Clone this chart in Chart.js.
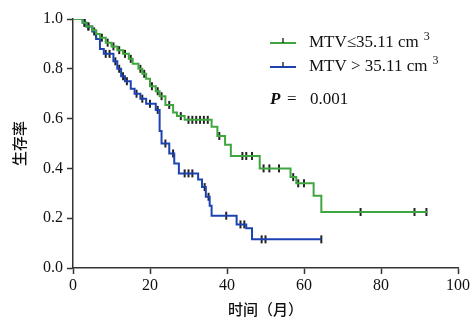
<!DOCTYPE html>
<html lang="zh">
<head>
  <meta charset="UTF-8">
  <title>生存曲线</title>
  <script src="https://cdn.jsdelivr.net/npm/chart.js"></script>
  <style>
    html, body { margin: 0; padding: 0; background: #fff; }
    #wrap { width: 472px; height: 326px; position: relative; }
  </style>
</head>
<body>
  <div id="wrap"><canvas id="km"></canvas></div>

  <script>
    // MTV <= 35.11 cm3 (green): step times and survival
    const lowT = [0, 2.5, 3.5, 5, 6, 7, 8.5, 10, 11.5, 13, 14.5, 15.5, 17, 18, 19, 20, 21.5, 22.5, 24, 26, 27, 29, 36, 37.5, 39.5, 41, 48.5, 56.5, 58, 62.5, 64.5, 92];
    const lowS = [1, 0.985, 0.97, 0.955, 0.94, 0.925, 0.905, 0.89, 0.875, 0.86, 0.84, 0.82, 0.8, 0.78, 0.76, 0.73, 0.71, 0.69, 0.655, 0.625, 0.61, 0.595, 0.567, 0.53, 0.495, 0.45, 0.4, 0.365, 0.34, 0.29, 0.225, 0.225];
    const lowCensor = [3, 4, 6, 7.5, 9, 10.5, 12, 13.5, 15, 17.5, 18.5, 20.5, 22, 23, 25, 28, 30, 31, 32, 33, 34, 35, 38, 44, 45, 46.5, 49.5, 51, 53.5, 57.2, 58.5, 60, 74.7, 88.7, 91.8];

    // MTV > 35.11 cm3 (blue)
    const highT = [0, 2.5, 3.5, 5, 6, 7, 8, 10.5, 11.5, 12.5, 13.5, 15, 16, 17.5, 19, 21.5, 22.5, 23, 25, 26.3, 27.5, 32.5, 33.5, 34.5, 35.5, 36, 42.5, 45, 46.5, 64.5];
    const highS = [1, 0.985, 0.97, 0.95, 0.92, 0.88, 0.86, 0.83, 0.8, 0.77, 0.75, 0.72, 0.7, 0.68, 0.66, 0.635, 0.55, 0.5, 0.46, 0.42, 0.38, 0.355, 0.325, 0.286, 0.25, 0.21, 0.175, 0.16, 0.115, 0.115];
    const highCensor = [3, 4, 5.5, 8.5, 9.5, 11, 12, 13, 14, 16.5, 18, 20, 22, 24, 26, 29, 30, 31, 34.2, 35.2, 39.8, 43.5, 44.5, 49, 50, 64.5];

    const xTicks = [0, 20, 40, 60, 80, 100];
    const yTicks = [0, 0.2, 0.4, 0.6, 0.8, 1.0];

    const green = '#3fa63f';
    const blue = '#1d43b3';
    const serif = "'Liberation Serif', 'DejaVu Serif', serif";
    const cjk = "'Noto Sans CJK SC', sans-serif";

    function stepAt(ts, ss, t) {
      let v = ss[0];
      for (let i = 0; i < ts.length; i++) if (ts[i] <= t) v = ss[i];
      return v;
    }
    const curve = (ts, ss) => ts.map((t, i) => ({ x: t, y: ss[i] }));
    const marks = (cs, ts, ss) => cs.map(t => ({ x: t, y: stepAt(ts, ss, t) }));

    // legend + p value drawn inside the plot area
    const legendPlugin = {
      id: 'kmLegend',
      afterDraw(chart) {
        const c = chart.ctx;
        const rows = [
          { color: green, sym: '≤', y: 43 },
          { color: blue, sym: ' > ', y: 67 }
        ];
        c.save();
        rows.forEach(r => {
          c.strokeStyle = r.color;
          c.lineWidth = 2;
          c.beginPath(); c.moveTo(270, r.y); c.lineTo(296, r.y); c.stroke();
          c.strokeStyle = '#333';
          c.lineWidth = 1.5;
          c.beginPath(); c.moveTo(283, r.y - 5); c.lineTo(283, r.y); c.stroke();
          c.fillStyle = '#111';
          c.textBaseline = 'alphabetic';
          c.textAlign = 'left';
          c.font = '17px ' + serif;
          const txt = 'MTV' + r.sym + '35.11 cm';
          c.fillText(txt, 309, r.y + 4);
          const w = c.measureText(txt).width;
          c.font = '12px ' + serif;
          c.fillText('3', 309 + w + 5, r.y - 3);
        });
        c.font = 'italic bold 17px ' + serif;
        c.fillText('P', 270, 104);
        c.font = '17px ' + serif;
        c.fillText('=', 287, 104);
        c.fillText('0.001', 310, 104);
        c.restore();
      }
    };

    const ctx = document.getElementById('km').getContext('2d');
    new Chart(ctx, {
      type: 'line',
      data: {
        datasets: [
          {
            data: curve(lowT, lowS),
            borderColor: green,
            borderWidth: 2,
            stepped: 'before',
            pointRadius: 0
          },
          {
            data: curve(highT, highS),
            borderColor: blue,
            borderWidth: 2,
            stepped: 'before',
            pointRadius: 0
          },
          {
            type: 'scatter',
            data: marks(lowCensor, lowT, lowS),
            pointStyle: 'line',
            rotation: 90,
            pointRadius: 4,
            borderColor: '#222',
            borderWidth: 2
          },
          {
            type: 'scatter',
            data: marks(highCensor, highT, highS),
            pointStyle: 'line',
            rotation: 90,
            pointRadius: 4,
            borderColor: '#222',
            borderWidth: 2
          }
        ]
      },
      options: {
        responsive: true,
        maintainAspectRatio: false,
        animation: false,
        layout: { padding: { left: 6, top: 19, right: 13, bottom: 4 } },
        plugins: {
          legend: { display: false },
          tooltip: { enabled: false }
        },
        scales: {
          x: {
            type: 'linear',
            min: 0,
            max: 100,
            afterBuildTicks: s => { s.ticks = xTicks.map(v => ({ value: v })); },
            afterFit: s => { s.height = 54; },
            grid: { drawOnChartArea: false, tickLength: 6, tickColor: '#333', tickWidth: 1.5 },
            border: { color: '#333', width: 1.5 },
            ticks: {
              color: '#111',
              padding: 2,
              maxRotation: 0,
              font: { family: serif, size: 16 }
            },
            title: {
              display: true,
              text: '时间（月）',
              color: '#111',
              padding: { top: 2 },
              font: { family: cjk, size: 15, weight: '500' }
            }
          },
          y: {
            min: 0,
            max: 1,
            afterBuildTicks: s => { s.ticks = yTicks.map(v => ({ value: v })); },
            afterFit: s => { s.width = 67; },
            grid: { drawOnChartArea: false, tickLength: 6, tickColor: '#333', tickWidth: 1.5 },
            border: { color: '#333', width: 1.5 },
            ticks: {
              color: '#111',
              padding: 4,
              font: { family: serif, size: 16 },
              callback: v => v.toFixed(1)
            },
            title: {
              display: true,
              text: '生存率',
              color: '#111',
              padding: { top: 4, bottom: 0 },
              font: { family: cjk, size: 15, weight: '500' }
            }
          }
        }
      },
      plugins: [legendPlugin]
    });
  </script>
</body>
</html>
